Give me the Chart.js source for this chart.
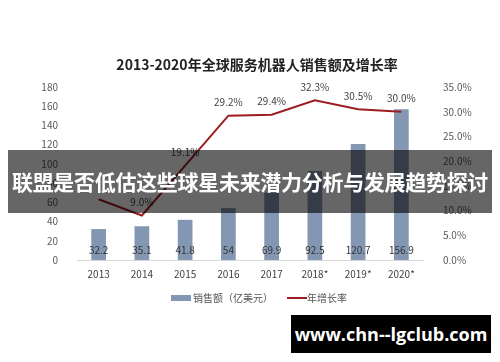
<!DOCTYPE html>
<html><head><meta charset="utf-8">
<script src="https://cdn.jsdelivr.net/npm/chart.js@4.4.0/dist/chart.umd.min.js"></script>
<style>
html,body{margin:0;padding:0;background:#fff;}
#wrap{position:relative;width:500px;height:362px;overflow:hidden;}
#c{position:absolute;left:0;top:0;}
#banner{position:absolute;left:8px;top:150px;width:484px;height:63px;background:rgba(0,0,0,0.6);color:#fff;font-family:"Noto Sans CJK SC",sans-serif;font-weight:bold;font-size:21px;line-height:63px;text-align:center;white-space:nowrap;letter-spacing:-0.3px;}
#wm{position:absolute;left:291px;top:315px;width:200px;height:38px;background:#000;color:#fff;font-family:"Open Sans",sans-serif;font-weight:bold;font-size:18px;line-height:38px;text-align:center;white-space:nowrap;}
</style></head>
<body><div id="wrap"><canvas id="c" width="500" height="362"></canvas>
<div id="banner">联盟是否低估这些球星未来潜力分析与发展趋势探讨</div>
<div id="wm">www.chn--lgclub.com</div></div>
<script>
const categories = ['2013','2014','2015','2016','2017','2018*','2019*','2020*'];
const salesValues = [32.2, 35.1, 41.8, 54, 69.9, 92.5, 120.7, 156.9];
const growthValues = [12.3, 9.0, 19.1, 29.2, 29.4, 32.3, 30.5, 30.0];
const growthLabelShown = [false, true, true, true, true, true, true, true];
const leftTicks = [0,20,40,60,80,100,120,140,160,180];
const titleText = '2013-2020年全球服务机器人销售额及增长率';
const legendSales = '销售额（亿美元）';
const legendGrowth = '年增长率';

const BAR = '#8497b2';
const RED = '#9c1c22';
const FONT = '"Noto Sans CJK SC", sans-serif';

const extras = {
  id: 'extras',
  afterDatasetsDraw(chart) {
    const ctx = chart.ctx;
    ctx.save();
    // title
    ctx.fillStyle = '#222';
    ctx.font = 'bold 14px ' + FONT;
    ctx.textAlign = 'center';
    ctx.textBaseline = 'middle';
    ctx.fillText(titleText, 257, 65);
    // bar labels
    ctx.font = '10px ' + FONT;
    ctx.fillStyle = '#333';
    const bm = chart.getDatasetMeta(0);
    bm.data.forEach((el, i) => {
      ctx.fillText(String(salesValues[i]), el.x, el.base - 10);
    });
    const lm = chart.getDatasetMeta(1);
    ctx.fillStyle = '#404040';
    lm.data.forEach((el, i) => {
      if (!growthLabelShown[i]) return;
      ctx.fillText(growthValues[i].toFixed(1) + '%', el.x, el.y - 13.5);
    });
    // legend
    ctx.font = '10px ' + FONT;
    const w1 = ctx.measureText(legendSales).width;
    const w2 = ctx.measureText(legendGrowth).width;
    const total = 20 + 2 + w1 + 14 + 20 + w2;
    let x = 259 - total / 2;
    const y = 298;
    ctx.fillStyle = BAR;
    ctx.fillRect(x, y - 3, 20, 6);
    x += 22;
    ctx.fillStyle = '#555';
    ctx.textAlign = 'left';
    ctx.fillText(legendSales, x, y);
    x += w1 + 14;
    ctx.strokeStyle = RED;
    ctx.lineWidth = 2;
    ctx.beginPath(); ctx.moveTo(x, y); ctx.lineTo(x + 20, y); ctx.stroke();
    x += 20;
    ctx.fillText(legendGrowth, x, y);
    ctx.restore();
  }
};

new Chart(document.getElementById('c'), {
  data: {
    labels: categories,
    datasets: [
      { type: 'bar', data: salesValues, backgroundColor: BAR, yAxisID: 'y', order: 2,
        categoryPercentage: 1, barPercentage: 0.34 },
      { type: 'line', data: growthValues, borderColor: RED, backgroundColor: RED, borderWidth: 2,
        pointRadius: 0, tension: 0, yAxisID: 'y1', order: 1 }
    ]
  },
  options: {
    responsive: false,
    animation: false,
    layout: { padding: { top: 87, bottom: 72, left: 0, right: 0 } },
    plugins: { legend: { display: false }, title: { display: false }, tooltip: { enabled: false } },
    scales: {
      x: {
        offset: true,
        grid: { display: true, drawOnChartArea: false, drawTicks: false },
        border: { display: true, color: '#d9d9d9', width: 1 },
        ticks: { color: '#404040', font: { family: FONT, size: 10 }, padding: 8 },
        afterFit(s) { s.height = 30; }
      },
      y: {
        position: 'left', min: 0, max: 180,
        afterBuildTicks(s) { s.ticks = leftTicks.map(v => ({ value: v })); },
        grid: { display: false }, border: { display: false },
        ticks: { color: '#595959', font: { family: FONT, size: 10 }, padding: 11 },
        afterFit(s) { s.width = 77; }
      },
      y1: {
        position: 'right', min: 0, max: 35,
        ticks: { stepSize: 5, color: '#595959', font: { family: FONT, size: 10 }, padding: 12,
          callback: v => v.toFixed(1) + '%' },
        grid: { display: false }, border: { display: false },
        afterFit(s) { s.width = 77; }
      }
    }
  },
  plugins: [extras]
});
</script></body></html>
